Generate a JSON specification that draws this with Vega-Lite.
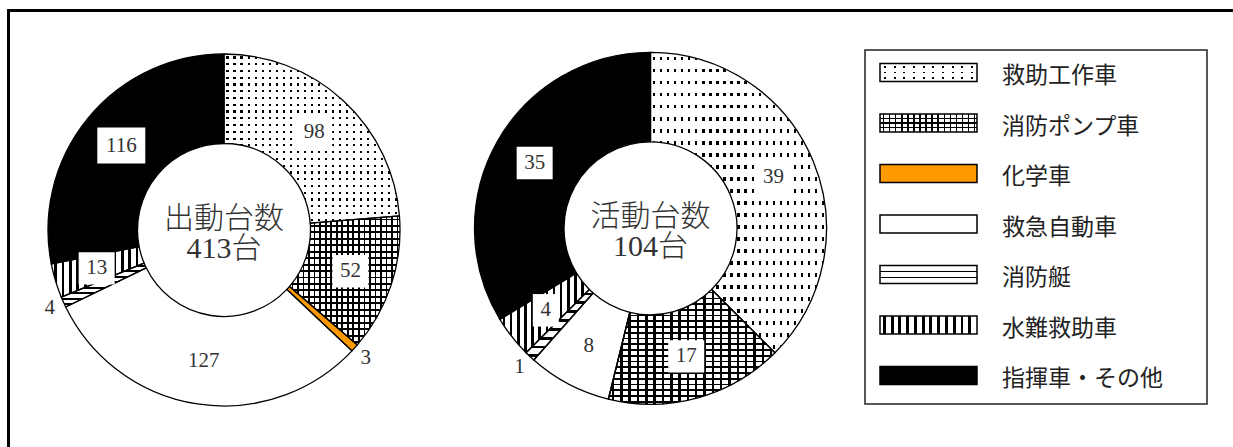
{
"$schema": "https://vega.github.io/schema/vega-lite/v6.json",
"autosize": {"type": "fit", "contains": "padding"},
"width": 1233,
"height": 447,
"padding": {"left": 8.5, "top": 10.5, "right": 0, "bottom": 0},
"background": "#ffffff",
"config": {"view": {"stroke": "#000", "strokeWidth": 3, "strokeDash": [1224.5, 1661, 436.5], "strokeCap": "square"}},
"datasets": {
"d": [
{"chart": "出動台数", "no": 1, "category": "救助工作車", "value": 98},
{"chart": "出動台数", "no": 2, "category": "消防ポンプ車", "value": 52},
{"chart": "出動台数", "no": 3, "category": "化学車", "value": 3},
{"chart": "出動台数", "no": 4, "category": "救急自動車", "value": 127},
{"chart": "出動台数", "no": 5, "category": "消防艇", "value": 4},
{"chart": "出動台数", "no": 6, "category": "水難救助車", "value": 13},
{"chart": "出動台数", "no": 7, "category": "指揮車・その他", "value": 116},
{"chart": "活動台数", "no": 1, "category": "救助工作車", "value": 39},
{"chart": "活動台数", "no": 2, "category": "消防ポンプ車", "value": 17},
{"chart": "活動台数", "no": 3, "category": "化学車", "value": 0},
{"chart": "活動台数", "no": 4, "category": "救急自動車", "value": 8},
{"chart": "活動台数", "no": 5, "category": "消防艇", "value": 1},
{"chart": "活動台数", "no": 6, "category": "水難救助車", "value": 4},
{"chart": "活動台数", "no": 7, "category": "指揮車・その他", "value": 35}
]
},
"data": {"name": "d"},
"resolve": {"scale": {"y": "independent"}},
"layer": [
{
"transform": [{"stack": "value", "groupby": ["chart"], "sort": [{"field": "no", "order": "ascending"}], "offset": "normalize", "as": ["s0", "s1"]}],
"mark": {"type": "arc", "innerRadius": 86.5, "outerRadius": 176},
"encoding": {
"x": {"field": "chart", "type": "nominal", "scale": {"type": "point", "domain": ["出動台数", "活動台数"], "range": [215.5, 642], "padding": 0}, "axis": null},
"y": {"field": "chart", "type": "nominal", "scale": {"type": "point", "domain": ["出動台数", "活動台数"], "range": [219.5, 217.8], "padding": 0}, "axis": null},
"theta": {"field": "s0", "type": "quantitative", "scale": {"domain": [0, 1]}},
"theta2": {"field": "s1"},
"fill": {"condition": [
{"test": "datum.category === '救助工作車'", "value": {"gradient":"linear","x1":0,"y1":0,"x2":0,"y2":1,"stops":[
{"offset":0.014,"color":"#fff"},{"offset":0.014,"color":"#000"},{"offset":0.027,"color":"#000"},{"offset":0.027,"color":"#fff"},
{"offset":0.054,"color":"#fff"},{"offset":0.054,"color":"#000"},{"offset":0.067,"color":"#000"},{"offset":0.067,"color":"#fff"},
{"offset":0.094,"color":"#fff"},{"offset":0.094,"color":"#000"},{"offset":0.107,"color":"#000"},{"offset":0.107,"color":"#fff"},
{"offset":0.134,"color":"#fff"},{"offset":0.134,"color":"#000"},{"offset":0.147,"color":"#000"},{"offset":0.147,"color":"#fff"},
{"offset":0.174,"color":"#fff"},{"offset":0.174,"color":"#000"},{"offset":0.187,"color":"#000"},{"offset":0.187,"color":"#fff"},
{"offset":0.214,"color":"#fff"},{"offset":0.214,"color":"#000"},{"offset":0.227,"color":"#000"},{"offset":0.227,"color":"#fff"},
{"offset":0.254,"color":"#fff"},{"offset":0.254,"color":"#000"},{"offset":0.267,"color":"#000"},{"offset":0.267,"color":"#fff"},
{"offset":0.294,"color":"#fff"},{"offset":0.294,"color":"#000"},{"offset":0.307,"color":"#000"},{"offset":0.307,"color":"#fff"},
{"offset":0.334,"color":"#fff"},{"offset":0.334,"color":"#000"},{"offset":0.347,"color":"#000"},{"offset":0.347,"color":"#fff"},
{"offset":0.374,"color":"#fff"},{"offset":0.374,"color":"#000"},{"offset":0.387,"color":"#000"},{"offset":0.387,"color":"#fff"},
{"offset":0.414,"color":"#fff"},{"offset":0.414,"color":"#000"},{"offset":0.427,"color":"#000"},{"offset":0.427,"color":"#fff"},
{"offset":0.454,"color":"#fff"},{"offset":0.454,"color":"#000"},{"offset":0.467,"color":"#000"},{"offset":0.467,"color":"#fff"},
{"offset":0.494,"color":"#fff"},{"offset":0.494,"color":"#000"},{"offset":0.507,"color":"#000"},{"offset":0.507,"color":"#fff"},
{"offset":0.534,"color":"#fff"},{"offset":0.534,"color":"#000"},{"offset":0.547,"color":"#000"},{"offset":0.547,"color":"#fff"},
{"offset":0.574,"color":"#fff"},{"offset":0.574,"color":"#000"},{"offset":0.587,"color":"#000"},{"offset":0.587,"color":"#fff"},
{"offset":0.614,"color":"#fff"},{"offset":0.614,"color":"#000"},{"offset":0.627,"color":"#000"},{"offset":0.627,"color":"#fff"},
{"offset":0.654,"color":"#fff"},{"offset":0.654,"color":"#000"},{"offset":0.667,"color":"#000"},{"offset":0.667,"color":"#fff"},
{"offset":0.694,"color":"#fff"},{"offset":0.694,"color":"#000"},{"offset":0.707,"color":"#000"},{"offset":0.707,"color":"#fff"},
{"offset":0.734,"color":"#fff"},{"offset":0.734,"color":"#000"},{"offset":0.747,"color":"#000"},{"offset":0.747,"color":"#fff"},
{"offset":0.774,"color":"#fff"},{"offset":0.774,"color":"#000"},{"offset":0.787,"color":"#000"},{"offset":0.787,"color":"#fff"},
{"offset":0.814,"color":"#fff"},{"offset":0.814,"color":"#000"},{"offset":0.827,"color":"#000"},{"offset":0.827,"color":"#fff"},
{"offset":0.854,"color":"#fff"},{"offset":0.854,"color":"#000"},{"offset":0.867,"color":"#000"},{"offset":0.867,"color":"#fff"},
{"offset":0.894,"color":"#fff"},{"offset":0.894,"color":"#000"},{"offset":0.907,"color":"#000"},{"offset":0.907,"color":"#fff"},
{"offset":0.934,"color":"#fff"},{"offset":0.934,"color":"#000"},{"offset":0.947,"color":"#000"},{"offset":0.947,"color":"#fff"},
{"offset":0.974,"color":"#fff"},{"offset":0.974,"color":"#000"},{"offset":0.987,"color":"#000"},{"offset":0.987,"color":"#fff"}]}},
{"test": "datum.category === '消防ポンプ車'", "value": {"gradient":"linear","x1":0,"y1":0,"x2":0,"y2":1,"stops":[
{"offset":0.02,"color":"#fff"},{"offset":0.02,"color":"#000"},{"offset":0.035,"color":"#000"},{"offset":0.035,"color":"#fff"},
{"offset":0.07,"color":"#fff"},{"offset":0.07,"color":"#000"},{"offset":0.085,"color":"#000"},{"offset":0.085,"color":"#fff"},
{"offset":0.12,"color":"#fff"},{"offset":0.12,"color":"#000"},{"offset":0.135,"color":"#000"},{"offset":0.135,"color":"#fff"},
{"offset":0.17,"color":"#fff"},{"offset":0.17,"color":"#000"},{"offset":0.185,"color":"#000"},{"offset":0.185,"color":"#fff"},
{"offset":0.22,"color":"#fff"},{"offset":0.22,"color":"#000"},{"offset":0.235,"color":"#000"},{"offset":0.235,"color":"#fff"},
{"offset":0.27,"color":"#fff"},{"offset":0.27,"color":"#000"},{"offset":0.285,"color":"#000"},{"offset":0.285,"color":"#fff"},
{"offset":0.32,"color":"#fff"},{"offset":0.32,"color":"#000"},{"offset":0.335,"color":"#000"},{"offset":0.335,"color":"#fff"},
{"offset":0.37,"color":"#fff"},{"offset":0.37,"color":"#000"},{"offset":0.385,"color":"#000"},{"offset":0.385,"color":"#fff"},
{"offset":0.42,"color":"#fff"},{"offset":0.42,"color":"#000"},{"offset":0.435,"color":"#000"},{"offset":0.435,"color":"#fff"},
{"offset":0.47,"color":"#fff"},{"offset":0.47,"color":"#000"},{"offset":0.485,"color":"#000"},{"offset":0.485,"color":"#fff"},
{"offset":0.52,"color":"#fff"},{"offset":0.52,"color":"#000"},{"offset":0.535,"color":"#000"},{"offset":0.535,"color":"#fff"},
{"offset":0.57,"color":"#fff"},{"offset":0.57,"color":"#000"},{"offset":0.585,"color":"#000"},{"offset":0.585,"color":"#fff"},
{"offset":0.62,"color":"#fff"},{"offset":0.62,"color":"#000"},{"offset":0.635,"color":"#000"},{"offset":0.635,"color":"#fff"},
{"offset":0.67,"color":"#fff"},{"offset":0.67,"color":"#000"},{"offset":0.685,"color":"#000"},{"offset":0.685,"color":"#fff"},
{"offset":0.72,"color":"#fff"},{"offset":0.72,"color":"#000"},{"offset":0.735,"color":"#000"},{"offset":0.735,"color":"#fff"},
{"offset":0.77,"color":"#fff"},{"offset":0.77,"color":"#000"},{"offset":0.785,"color":"#000"},{"offset":0.785,"color":"#fff"},
{"offset":0.82,"color":"#fff"},{"offset":0.82,"color":"#000"},{"offset":0.835,"color":"#000"},{"offset":0.835,"color":"#fff"},
{"offset":0.87,"color":"#fff"},{"offset":0.87,"color":"#000"},{"offset":0.885,"color":"#000"},{"offset":0.885,"color":"#fff"},
{"offset":0.92,"color":"#fff"},{"offset":0.92,"color":"#000"},{"offset":0.935,"color":"#000"},{"offset":0.935,"color":"#fff"},
{"offset":0.97,"color":"#fff"},{"offset":0.97,"color":"#000"},{"offset":0.985,"color":"#000"},{"offset":0.985,"color":"#fff"}]}},
{"test": "datum.category === '化学車'", "value": "#ff9900"},
{"test": "datum.category === '消防艇'", "value": {"gradient":"linear","x1":0,"y1":0,"x2":0,"y2":1,"stops":[
{"offset":0.045,"color":"#fff"},{"offset":0.045,"color":"#000"},{"offset":0.085,"color":"#000"},{"offset":0.085,"color":"#fff"},
{"offset":0.17,"color":"#fff"},{"offset":0.17,"color":"#000"},{"offset":0.21,"color":"#000"},{"offset":0.21,"color":"#fff"},
{"offset":0.295,"color":"#fff"},{"offset":0.295,"color":"#000"},{"offset":0.335,"color":"#000"},{"offset":0.335,"color":"#fff"},
{"offset":0.42,"color":"#fff"},{"offset":0.42,"color":"#000"},{"offset":0.46,"color":"#000"},{"offset":0.46,"color":"#fff"},
{"offset":0.545,"color":"#fff"},{"offset":0.545,"color":"#000"},{"offset":0.585,"color":"#000"},{"offset":0.585,"color":"#fff"},
{"offset":0.67,"color":"#fff"},{"offset":0.67,"color":"#000"},{"offset":0.71,"color":"#000"},{"offset":0.71,"color":"#fff"},
{"offset":0.795,"color":"#fff"},{"offset":0.795,"color":"#000"},{"offset":0.835,"color":"#000"},{"offset":0.835,"color":"#fff"},
{"offset":0.92,"color":"#fff"},{"offset":0.92,"color":"#000"},{"offset":0.96,"color":"#000"},{"offset":0.96,"color":"#fff"}]}},
{"test": "datum.category === '水難救助車'", "value": {"gradient":"linear","x1":0,"y1":0,"x2":1,"y2":0,"stops":[
{"offset":0.03,"color":"#fff"},{"offset":0.03,"color":"#000"},{"offset":0.06,"color":"#000"},{"offset":0.06,"color":"#fff"},
{"offset":0.11,"color":"#fff"},{"offset":0.11,"color":"#000"},{"offset":0.14,"color":"#000"},{"offset":0.14,"color":"#fff"},
{"offset":0.19,"color":"#fff"},{"offset":0.19,"color":"#000"},{"offset":0.22,"color":"#000"},{"offset":0.22,"color":"#fff"},
{"offset":0.27,"color":"#fff"},{"offset":0.27,"color":"#000"},{"offset":0.30,"color":"#000"},{"offset":0.30,"color":"#fff"},
{"offset":0.35,"color":"#fff"},{"offset":0.35,"color":"#000"},{"offset":0.38,"color":"#000"},{"offset":0.38,"color":"#fff"},
{"offset":0.43,"color":"#fff"},{"offset":0.43,"color":"#000"},{"offset":0.46,"color":"#000"},{"offset":0.46,"color":"#fff"},
{"offset":0.51,"color":"#fff"},{"offset":0.51,"color":"#000"},{"offset":0.54,"color":"#000"},{"offset":0.54,"color":"#fff"},
{"offset":0.59,"color":"#fff"},{"offset":0.59,"color":"#000"},{"offset":0.62,"color":"#000"},{"offset":0.62,"color":"#fff"},
{"offset":0.67,"color":"#fff"},{"offset":0.67,"color":"#000"},{"offset":0.70,"color":"#000"},{"offset":0.70,"color":"#fff"},
{"offset":0.75,"color":"#fff"},{"offset":0.75,"color":"#000"},{"offset":0.78,"color":"#000"},{"offset":0.78,"color":"#fff"},
{"offset":0.83,"color":"#fff"},{"offset":0.83,"color":"#000"},{"offset":0.86,"color":"#000"},{"offset":0.86,"color":"#fff"},
{"offset":0.91,"color":"#fff"},{"offset":0.91,"color":"#000"},{"offset":0.94,"color":"#000"},{"offset":0.94,"color":"#fff"}]}},
{"test": "datum.category === '指揮車・その他'", "value": "#000000"}
], "value": "#ffffff"}
}
},
{
"transform": [{"stack": "value", "groupby": ["chart"], "sort": [{"field": "no", "order": "ascending"}], "offset": "normalize", "as": ["s0", "s1"]}],
"mark": {"type": "arc", "innerRadius": 86.5, "outerRadius": 176, "stroke": "#000", "strokeWidth": 1.3},
"encoding": {
"x": {"field": "chart", "type": "nominal", "scale": {"type": "point", "domain": ["出動台数", "活動台数"], "range": [215.5, 642], "padding": 0}, "axis": null},
"y": {"field": "chart", "type": "nominal", "scale": {"type": "point", "domain": ["出動台数", "活動台数"], "range": [219.5, 217.8], "padding": 0}, "axis": null},
"theta": {"field": "s0", "type": "quantitative", "scale": {"domain": [0, 1]}},
"theta2": {"field": "s1"},
"fill": {"condition": [
{"test": "datum.category === '救助工作車'", "value": {"gradient":"linear","x1":0,"y1":0,"x2":1,"y2":0,"stops":[
{"offset":0.014,"color":"#fff"},{"offset":0.014,"color":"rgba(255,255,255,0)"},{"offset":0.027,"color":"rgba(255,255,255,0)"},{"offset":0.027,"color":"#fff"},
{"offset":0.054,"color":"#fff"},{"offset":0.054,"color":"rgba(255,255,255,0)"},{"offset":0.067,"color":"rgba(255,255,255,0)"},{"offset":0.067,"color":"#fff"},
{"offset":0.094,"color":"#fff"},{"offset":0.094,"color":"rgba(255,255,255,0)"},{"offset":0.107,"color":"rgba(255,255,255,0)"},{"offset":0.107,"color":"#fff"},
{"offset":0.134,"color":"#fff"},{"offset":0.134,"color":"rgba(255,255,255,0)"},{"offset":0.147,"color":"rgba(255,255,255,0)"},{"offset":0.147,"color":"#fff"},
{"offset":0.174,"color":"#fff"},{"offset":0.174,"color":"rgba(255,255,255,0)"},{"offset":0.187,"color":"rgba(255,255,255,0)"},{"offset":0.187,"color":"#fff"},
{"offset":0.214,"color":"#fff"},{"offset":0.214,"color":"rgba(255,255,255,0)"},{"offset":0.227,"color":"rgba(255,255,255,0)"},{"offset":0.227,"color":"#fff"},
{"offset":0.254,"color":"#fff"},{"offset":0.254,"color":"rgba(255,255,255,0)"},{"offset":0.267,"color":"rgba(255,255,255,0)"},{"offset":0.267,"color":"#fff"},
{"offset":0.294,"color":"#fff"},{"offset":0.294,"color":"rgba(255,255,255,0)"},{"offset":0.307,"color":"rgba(255,255,255,0)"},{"offset":0.307,"color":"#fff"},
{"offset":0.334,"color":"#fff"},{"offset":0.334,"color":"rgba(255,255,255,0)"},{"offset":0.347,"color":"rgba(255,255,255,0)"},{"offset":0.347,"color":"#fff"},
{"offset":0.374,"color":"#fff"},{"offset":0.374,"color":"rgba(255,255,255,0)"},{"offset":0.387,"color":"rgba(255,255,255,0)"},{"offset":0.387,"color":"#fff"},
{"offset":0.414,"color":"#fff"},{"offset":0.414,"color":"rgba(255,255,255,0)"},{"offset":0.427,"color":"rgba(255,255,255,0)"},{"offset":0.427,"color":"#fff"},
{"offset":0.454,"color":"#fff"},{"offset":0.454,"color":"rgba(255,255,255,0)"},{"offset":0.467,"color":"rgba(255,255,255,0)"},{"offset":0.467,"color":"#fff"},
{"offset":0.494,"color":"#fff"},{"offset":0.494,"color":"rgba(255,255,255,0)"},{"offset":0.507,"color":"rgba(255,255,255,0)"},{"offset":0.507,"color":"#fff"},
{"offset":0.534,"color":"#fff"},{"offset":0.534,"color":"rgba(255,255,255,0)"},{"offset":0.547,"color":"rgba(255,255,255,0)"},{"offset":0.547,"color":"#fff"},
{"offset":0.574,"color":"#fff"},{"offset":0.574,"color":"rgba(255,255,255,0)"},{"offset":0.587,"color":"rgba(255,255,255,0)"},{"offset":0.587,"color":"#fff"},
{"offset":0.614,"color":"#fff"},{"offset":0.614,"color":"rgba(255,255,255,0)"},{"offset":0.627,"color":"rgba(255,255,255,0)"},{"offset":0.627,"color":"#fff"},
{"offset":0.654,"color":"#fff"},{"offset":0.654,"color":"rgba(255,255,255,0)"},{"offset":0.667,"color":"rgba(255,255,255,0)"},{"offset":0.667,"color":"#fff"},
{"offset":0.694,"color":"#fff"},{"offset":0.694,"color":"rgba(255,255,255,0)"},{"offset":0.707,"color":"rgba(255,255,255,0)"},{"offset":0.707,"color":"#fff"},
{"offset":0.734,"color":"#fff"},{"offset":0.734,"color":"rgba(255,255,255,0)"},{"offset":0.747,"color":"rgba(255,255,255,0)"},{"offset":0.747,"color":"#fff"},
{"offset":0.774,"color":"#fff"},{"offset":0.774,"color":"rgba(255,255,255,0)"},{"offset":0.787,"color":"rgba(255,255,255,0)"},{"offset":0.787,"color":"#fff"},
{"offset":0.814,"color":"#fff"},{"offset":0.814,"color":"rgba(255,255,255,0)"},{"offset":0.827,"color":"rgba(255,255,255,0)"},{"offset":0.827,"color":"#fff"},
{"offset":0.854,"color":"#fff"},{"offset":0.854,"color":"rgba(255,255,255,0)"},{"offset":0.867,"color":"rgba(255,255,255,0)"},{"offset":0.867,"color":"#fff"},
{"offset":0.894,"color":"#fff"},{"offset":0.894,"color":"rgba(255,255,255,0)"},{"offset":0.907,"color":"rgba(255,255,255,0)"},{"offset":0.907,"color":"#fff"},
{"offset":0.934,"color":"#fff"},{"offset":0.934,"color":"rgba(255,255,255,0)"},{"offset":0.947,"color":"rgba(255,255,255,0)"},{"offset":0.947,"color":"#fff"},
{"offset":0.974,"color":"#fff"},{"offset":0.974,"color":"rgba(255,255,255,0)"},{"offset":0.987,"color":"rgba(255,255,255,0)"},{"offset":0.987,"color":"#fff"}]}},
{"test": "datum.category === '消防ポンプ車'", "value": {"gradient":"linear","x1":0,"y1":0,"x2":1,"y2":0,"stops":[
{"offset":0.02,"color":"rgba(255,255,255,0)"},{"offset":0.02,"color":"#000"},{"offset":0.035,"color":"#000"},{"offset":0.035,"color":"rgba(255,255,255,0)"},
{"offset":0.07,"color":"rgba(255,255,255,0)"},{"offset":0.07,"color":"#000"},{"offset":0.085,"color":"#000"},{"offset":0.085,"color":"rgba(255,255,255,0)"},
{"offset":0.12,"color":"rgba(255,255,255,0)"},{"offset":0.12,"color":"#000"},{"offset":0.135,"color":"#000"},{"offset":0.135,"color":"rgba(255,255,255,0)"},
{"offset":0.17,"color":"rgba(255,255,255,0)"},{"offset":0.17,"color":"#000"},{"offset":0.185,"color":"#000"},{"offset":0.185,"color":"rgba(255,255,255,0)"},
{"offset":0.22,"color":"rgba(255,255,255,0)"},{"offset":0.22,"color":"#000"},{"offset":0.235,"color":"#000"},{"offset":0.235,"color":"rgba(255,255,255,0)"},
{"offset":0.27,"color":"rgba(255,255,255,0)"},{"offset":0.27,"color":"#000"},{"offset":0.285,"color":"#000"},{"offset":0.285,"color":"rgba(255,255,255,0)"},
{"offset":0.32,"color":"rgba(255,255,255,0)"},{"offset":0.32,"color":"#000"},{"offset":0.335,"color":"#000"},{"offset":0.335,"color":"rgba(255,255,255,0)"},
{"offset":0.37,"color":"rgba(255,255,255,0)"},{"offset":0.37,"color":"#000"},{"offset":0.385,"color":"#000"},{"offset":0.385,"color":"rgba(255,255,255,0)"},
{"offset":0.42,"color":"rgba(255,255,255,0)"},{"offset":0.42,"color":"#000"},{"offset":0.435,"color":"#000"},{"offset":0.435,"color":"rgba(255,255,255,0)"},
{"offset":0.47,"color":"rgba(255,255,255,0)"},{"offset":0.47,"color":"#000"},{"offset":0.485,"color":"#000"},{"offset":0.485,"color":"rgba(255,255,255,0)"},
{"offset":0.52,"color":"rgba(255,255,255,0)"},{"offset":0.52,"color":"#000"},{"offset":0.535,"color":"#000"},{"offset":0.535,"color":"rgba(255,255,255,0)"},
{"offset":0.57,"color":"rgba(255,255,255,0)"},{"offset":0.57,"color":"#000"},{"offset":0.585,"color":"#000"},{"offset":0.585,"color":"rgba(255,255,255,0)"},
{"offset":0.62,"color":"rgba(255,255,255,0)"},{"offset":0.62,"color":"#000"},{"offset":0.635,"color":"#000"},{"offset":0.635,"color":"rgba(255,255,255,0)"},
{"offset":0.67,"color":"rgba(255,255,255,0)"},{"offset":0.67,"color":"#000"},{"offset":0.685,"color":"#000"},{"offset":0.685,"color":"rgba(255,255,255,0)"},
{"offset":0.72,"color":"rgba(255,255,255,0)"},{"offset":0.72,"color":"#000"},{"offset":0.735,"color":"#000"},{"offset":0.735,"color":"rgba(255,255,255,0)"},
{"offset":0.77,"color":"rgba(255,255,255,0)"},{"offset":0.77,"color":"#000"},{"offset":0.785,"color":"#000"},{"offset":0.785,"color":"rgba(255,255,255,0)"},
{"offset":0.82,"color":"rgba(255,255,255,0)"},{"offset":0.82,"color":"#000"},{"offset":0.835,"color":"#000"},{"offset":0.835,"color":"rgba(255,255,255,0)"},
{"offset":0.87,"color":"rgba(255,255,255,0)"},{"offset":0.87,"color":"#000"},{"offset":0.885,"color":"#000"},{"offset":0.885,"color":"rgba(255,255,255,0)"},
{"offset":0.92,"color":"rgba(255,255,255,0)"},{"offset":0.92,"color":"#000"},{"offset":0.935,"color":"#000"},{"offset":0.935,"color":"rgba(255,255,255,0)"},
{"offset":0.97,"color":"rgba(255,255,255,0)"},{"offset":0.97,"color":"#000"},{"offset":0.985,"color":"#000"},{"offset":0.985,"color":"rgba(255,255,255,0)"}]}}
], "value": "transparent"}
}
},
{
"transform": [
{"stack": "value", "groupby": ["chart"], "sort": [{"field": "no", "order": "ascending"}], "offset": "normalize", "as": ["s0", "s1"]},
{"filter": "datum.value > 0 && datum.category !== '化学車' && datum.category !== '消防艇' && datum.category !== '救急自動車'"},
{"calculate": "(datum.s0 + datum.s1) / 2", "as": "mid"},
{"calculate": "133 * sin(2 * PI * datum.mid)", "as": "dx"},
{"calculate": "-133 * cos(2 * PI * datum.mid)", "as": "dy"}
],
"mark": {"type": "point", "filled": true, "opacity": 1, "color": "#ffffff", "strokeWidth": 0},
"encoding": {
"x": {"field": "chart", "type": "nominal", "scale": {"type": "point", "domain": ["出動台数", "活動台数"], "range": [215.5, 642], "padding": 0}, "axis": null},
"y": {"field": "chart", "type": "nominal", "scale": {"type": "point", "domain": ["出動台数", "活動台数"], "range": [219.5, 217.8], "padding": 0}, "axis": null},
"xOffset": {"field": "dx", "type": "quantitative", "scale": {"domain": [-300, 300], "range": [-300, 300]}},
"yOffset": {"field": "dy", "type": "quantitative", "scale": {"domain": [-300, 300], "range": [-300, 300]}},
"shape": {"condition": [{"test": "datum.value >= 100", "value": "M-1,-0.75H1V0.75H-1Z"}, {"test": "datum.value < 10", "value": "M-1,-1.25H1V1.25H-1Z"}], "value": "M-1,-0.9H1V0.9H-1Z"},
"size": {"condition": [{"test": "datum.value >= 100", "value": 2304}, {"test": "datum.value < 10", "value": 676}], "value": 1296}
}
},
{
"transform": [
{"stack": "value", "groupby": ["chart"], "sort": [{"field": "no", "order": "ascending"}], "offset": "normalize", "as": ["s0", "s1"]},
{"filter": "datum.value > 0 && datum.category !== '化学車' && datum.category !== '消防艇'"},
{"calculate": "(datum.s0 + datum.s1) / 2", "as": "mid"}
],
"mark": {"type": "text", "radius": 133, "font": "Liberation Serif", "fontSize": 21, "align": "center", "baseline": "middle", "color": "#333333"},
"encoding": {
"x": {"field": "chart", "type": "nominal", "scale": {"type": "point", "domain": ["出動台数", "活動台数"], "range": [215.5, 642], "padding": 0}, "axis": null},
"y": {"field": "chart", "type": "nominal", "scale": {"type": "point", "domain": ["出動台数", "活動台数"], "range": [219.5, 217.8], "padding": 0}, "axis": null},
"theta": {"field": "mid", "type": "quantitative", "scale": {"domain": [0, 1]}},
"text": {"field": "value", "type": "quantitative"}
}
},
{
"transform": [
{"stack": "value", "groupby": ["chart"], "sort": [{"field": "no", "order": "ascending"}], "offset": "normalize", "as": ["s0", "s1"]},
{"filter": "datum.value > 0 && (datum.category === '化学車' || datum.category === '消防艇')"},
{"calculate": "(datum.s0 + datum.s1) / 2", "as": "mid"}
],
"mark": {"type": "text", "radius": 191, "font": "Liberation Serif", "fontSize": 21, "align": "center", "baseline": "middle", "color": "#333333"},
"encoding": {
"x": {"field": "chart", "type": "nominal", "scale": {"type": "point", "domain": ["出動台数", "活動台数"], "range": [215.5, 642], "padding": 0}, "axis": null},
"y": {"field": "chart", "type": "nominal", "scale": {"type": "point", "domain": ["出動台数", "活動台数"], "range": [219.5, 217.8], "padding": 0}, "axis": null},
"theta": {"field": "mid", "type": "quantitative", "scale": {"domain": [0, 1]}},
"text": {"field": "value", "type": "quantitative"}
}
},
{
"transform": [
{"aggregate": [{"op": "sum", "field": "value", "as": "total"}], "groupby": ["chart"]},
{"calculate": "[datum.chart, datum.total + '台']", "as": "lines"}
],
"mark": {"type": "text", "font": "Liberation Serif, Noto Sans CJK JP", "fontSize": 30, "fontWeight": 300, "lineHeight": 30, "align": "center", "baseline": "middle", "color": "#333333", "dy": -11},
"encoding": {
"x": {"field": "chart", "type": "nominal", "scale": {"type": "point", "domain": ["出動台数", "活動台数"], "range": [215.5, 642], "padding": 0}, "axis": null},
"y": {"field": "chart", "type": "nominal", "scale": {"type": "point", "domain": ["出動台数", "活動台数"], "range": [219.5, 217.8], "padding": 0}, "axis": null},
"text": {"field": "lines"}
}
},
{
"transform": [{"filter": "datum.chart === '出動台数' && datum.no === 1"}],
"mark": {"type": "rect", "filled": false, "stroke": "#222222", "strokeWidth": 1.5},
"encoding": {
"x": {"value": 856.5}, "x2": {"value": 1198.5},
"y": {"value": 39.5}, "y2": {"value": 393.5}
}
},
{
"transform": [{"filter": "datum.chart === '出動台数'"}],
"mark": {"type": "rect"},
"encoding": {
"x": {"value": 871.5}, "x2": {"value": 968.5},
"y": {"field": "category", "type": "nominal", "scale": {"type": "band", "domain": ["救助工作車", "消防ポンプ車", "化学車", "救急自動車", "消防艇", "水難救助車", "指揮車・その他"], "range": [53, 381], "paddingInner": 0.505, "paddingOuter": 0}, "axis": null},
"fill": {"condition": [
{"test": "datum.category === '救助工作車'", "value": {"gradient":"linear","x1":0,"y1":0,"x2":0,"y2":1,"stops":[
{"offset":0.16,"color":"#fff"},{"offset":0.16,"color":"#000"},{"offset":0.24,"color":"#000"},{"offset":0.24,"color":"#fff"},
{"offset":0.46,"color":"#fff"},{"offset":0.46,"color":"#000"},{"offset":0.54,"color":"#000"},{"offset":0.54,"color":"#fff"},
{"offset":0.76,"color":"#fff"},{"offset":0.76,"color":"#000"},{"offset":0.84,"color":"#000"},{"offset":0.84,"color":"#fff"}]}},
{"test": "datum.category === '消防ポンプ車'", "value": {"gradient":"linear","x1":0,"y1":0,"x2":0,"y2":1,"stops":[
{"offset":0.22,"color":"#fff"},{"offset":0.22,"color":"#000"},{"offset":0.28,"color":"#000"},{"offset":0.28,"color":"#fff"},
{"offset":0.47,"color":"#fff"},{"offset":0.47,"color":"#000"},{"offset":0.53,"color":"#000"},{"offset":0.53,"color":"#fff"},
{"offset":0.72,"color":"#fff"},{"offset":0.72,"color":"#000"},{"offset":0.78,"color":"#000"},{"offset":0.78,"color":"#fff"}]}},
{"test": "datum.category === '化学車'", "value": "#ff9900"},
{"test": "datum.category === '消防艇'", "value": {"gradient":"linear","x1":0,"y1":0,"x2":0,"y2":1,"stops":[
{"offset":0.3,"color":"#fff"},{"offset":0.3,"color":"#000"},{"offset":0.38,"color":"#000"},{"offset":0.38,"color":"#fff"},
{"offset":0.62,"color":"#fff"},{"offset":0.62,"color":"#000"},{"offset":0.70,"color":"#000"},{"offset":0.70,"color":"#fff"}]}},
{"test": "datum.category === '水難救助車'", "value": {"gradient":"linear","x1":0,"y1":0,"x2":1,"y2":0,"stops":[
{"offset":0.03,"color":"#fff"},{"offset":0.03,"color":"#000"},{"offset":0.06,"color":"#000"},{"offset":0.06,"color":"#fff"},
{"offset":0.11,"color":"#fff"},{"offset":0.11,"color":"#000"},{"offset":0.14,"color":"#000"},{"offset":0.14,"color":"#fff"},
{"offset":0.19,"color":"#fff"},{"offset":0.19,"color":"#000"},{"offset":0.22,"color":"#000"},{"offset":0.22,"color":"#fff"},
{"offset":0.27,"color":"#fff"},{"offset":0.27,"color":"#000"},{"offset":0.30,"color":"#000"},{"offset":0.30,"color":"#fff"},
{"offset":0.35,"color":"#fff"},{"offset":0.35,"color":"#000"},{"offset":0.38,"color":"#000"},{"offset":0.38,"color":"#fff"},
{"offset":0.43,"color":"#fff"},{"offset":0.43,"color":"#000"},{"offset":0.46,"color":"#000"},{"offset":0.46,"color":"#fff"},
{"offset":0.51,"color":"#fff"},{"offset":0.51,"color":"#000"},{"offset":0.54,"color":"#000"},{"offset":0.54,"color":"#fff"},
{"offset":0.59,"color":"#fff"},{"offset":0.59,"color":"#000"},{"offset":0.62,"color":"#000"},{"offset":0.62,"color":"#fff"},
{"offset":0.67,"color":"#fff"},{"offset":0.67,"color":"#000"},{"offset":0.70,"color":"#000"},{"offset":0.70,"color":"#fff"},
{"offset":0.75,"color":"#fff"},{"offset":0.75,"color":"#000"},{"offset":0.78,"color":"#000"},{"offset":0.78,"color":"#fff"},
{"offset":0.83,"color":"#fff"},{"offset":0.83,"color":"#000"},{"offset":0.86,"color":"#000"},{"offset":0.86,"color":"#fff"},
{"offset":0.91,"color":"#fff"},{"offset":0.91,"color":"#000"},{"offset":0.94,"color":"#000"},{"offset":0.94,"color":"#fff"}]}},
{"test": "datum.category === '指揮車・その他'", "value": "#000000"}
], "value": "#ffffff"}
}
},
{
"transform": [{"filter": "datum.chart === '出動台数'"}],
"mark": {"type": "rect", "stroke": "#000", "strokeWidth": 1.5},
"encoding": {
"x": {"value": 871.5}, "x2": {"value": 968.5},
"y": {"field": "category", "type": "nominal", "scale": {"type": "band", "domain": ["救助工作車", "消防ポンプ車", "化学車", "救急自動車", "消防艇", "水難救助車", "指揮車・その他"], "range": [53, 381], "paddingInner": 0.505, "paddingOuter": 0}, "axis": null},
"fill": {"condition": [
{"test": "datum.category === '救助工作車'", "value": {"gradient":"linear","x1":0,"y1":0,"x2":1,"y2":0,"stops":[
{"offset":0.04,"color":"#fff"},{"offset":0.04,"color":"rgba(255,255,255,0)"},{"offset":0.06,"color":"rgba(255,255,255,0)"},{"offset":0.06,"color":"#fff"},
{"offset":0.14,"color":"#fff"},{"offset":0.14,"color":"rgba(255,255,255,0)"},{"offset":0.16,"color":"rgba(255,255,255,0)"},{"offset":0.16,"color":"#fff"},
{"offset":0.24,"color":"#fff"},{"offset":0.24,"color":"rgba(255,255,255,0)"},{"offset":0.26,"color":"rgba(255,255,255,0)"},{"offset":0.26,"color":"#fff"},
{"offset":0.34,"color":"#fff"},{"offset":0.34,"color":"rgba(255,255,255,0)"},{"offset":0.36,"color":"rgba(255,255,255,0)"},{"offset":0.36,"color":"#fff"},
{"offset":0.44,"color":"#fff"},{"offset":0.44,"color":"rgba(255,255,255,0)"},{"offset":0.46,"color":"rgba(255,255,255,0)"},{"offset":0.46,"color":"#fff"},
{"offset":0.54,"color":"#fff"},{"offset":0.54,"color":"rgba(255,255,255,0)"},{"offset":0.56,"color":"rgba(255,255,255,0)"},{"offset":0.56,"color":"#fff"},
{"offset":0.64,"color":"#fff"},{"offset":0.64,"color":"rgba(255,255,255,0)"},{"offset":0.66,"color":"rgba(255,255,255,0)"},{"offset":0.66,"color":"#fff"},
{"offset":0.74,"color":"#fff"},{"offset":0.74,"color":"rgba(255,255,255,0)"},{"offset":0.76,"color":"rgba(255,255,255,0)"},{"offset":0.76,"color":"#fff"},
{"offset":0.84,"color":"#fff"},{"offset":0.84,"color":"rgba(255,255,255,0)"},{"offset":0.86,"color":"rgba(255,255,255,0)"},{"offset":0.86,"color":"#fff"},
{"offset":0.94,"color":"#fff"},{"offset":0.94,"color":"rgba(255,255,255,0)"},{"offset":0.96,"color":"rgba(255,255,255,0)"},{"offset":0.96,"color":"#fff"}]}},
{"test": "datum.category === '消防ポンプ車'", "value": {"gradient":"linear","x1":0,"y1":0,"x2":1,"y2":0,"stops":[
{"offset":0.03,"color":"rgba(255,255,255,0)"},{"offset":0.03,"color":"#000"},{"offset":0.045,"color":"#000"},{"offset":0.045,"color":"rgba(255,255,255,0)"},
{"offset":0.0925,"color":"rgba(255,255,255,0)"},{"offset":0.0925,"color":"#000"},{"offset":0.1075,"color":"#000"},{"offset":0.1075,"color":"rgba(255,255,255,0)"},
{"offset":0.155,"color":"rgba(255,255,255,0)"},{"offset":0.155,"color":"#000"},{"offset":0.17,"color":"#000"},{"offset":0.17,"color":"rgba(255,255,255,0)"},
{"offset":0.2175,"color":"rgba(255,255,255,0)"},{"offset":0.2175,"color":"#000"},{"offset":0.2325,"color":"#000"},{"offset":0.2325,"color":"rgba(255,255,255,0)"},
{"offset":0.28,"color":"rgba(255,255,255,0)"},{"offset":0.28,"color":"#000"},{"offset":0.295,"color":"#000"},{"offset":0.295,"color":"rgba(255,255,255,0)"},
{"offset":0.3425,"color":"rgba(255,255,255,0)"},{"offset":0.3425,"color":"#000"},{"offset":0.3575,"color":"#000"},{"offset":0.3575,"color":"rgba(255,255,255,0)"},
{"offset":0.405,"color":"rgba(255,255,255,0)"},{"offset":0.405,"color":"#000"},{"offset":0.42,"color":"#000"},{"offset":0.42,"color":"rgba(255,255,255,0)"},
{"offset":0.4675,"color":"rgba(255,255,255,0)"},{"offset":0.4675,"color":"#000"},{"offset":0.4825,"color":"#000"},{"offset":0.4825,"color":"rgba(255,255,255,0)"},
{"offset":0.53,"color":"rgba(255,255,255,0)"},{"offset":0.53,"color":"#000"},{"offset":0.545,"color":"#000"},{"offset":0.545,"color":"rgba(255,255,255,0)"},
{"offset":0.5925,"color":"rgba(255,255,255,0)"},{"offset":0.5925,"color":"#000"},{"offset":0.6075,"color":"#000"},{"offset":0.6075,"color":"rgba(255,255,255,0)"},
{"offset":0.655,"color":"rgba(255,255,255,0)"},{"offset":0.655,"color":"#000"},{"offset":0.67,"color":"#000"},{"offset":0.67,"color":"rgba(255,255,255,0)"},
{"offset":0.7175,"color":"rgba(255,255,255,0)"},{"offset":0.7175,"color":"#000"},{"offset":0.7325,"color":"#000"},{"offset":0.7325,"color":"rgba(255,255,255,0)"},
{"offset":0.78,"color":"rgba(255,255,255,0)"},{"offset":0.78,"color":"#000"},{"offset":0.795,"color":"#000"},{"offset":0.795,"color":"rgba(255,255,255,0)"},
{"offset":0.8425,"color":"rgba(255,255,255,0)"},{"offset":0.8425,"color":"#000"},{"offset":0.8575,"color":"#000"},{"offset":0.8575,"color":"rgba(255,255,255,0)"},
{"offset":0.905,"color":"rgba(255,255,255,0)"},{"offset":0.905,"color":"#000"},{"offset":0.92,"color":"#000"},{"offset":0.92,"color":"rgba(255,255,255,0)"},
{"offset":0.9675,"color":"rgba(255,255,255,0)"},{"offset":0.9675,"color":"#000"},{"offset":0.9825,"color":"#000"},{"offset":0.9825,"color":"rgba(255,255,255,0)"}]}}
], "value": "transparent"}
}
},
{
"transform": [{"filter": "datum.chart === '出動台数'"}],
"mark": {"type": "text", "font": "Noto Sans CJK JP", "fontSize": 23, "align": "left", "baseline": "middle", "color": "#222222"},
"encoding": {
"x": {"value": 993.5},
"y": {"field": "category", "type": "nominal", "scale": {"type": "point", "domain": ["救助工作車", "消防ポンプ車", "化学車", "救急自動車", "消防艇", "水難救助車", "指揮車・その他"], "range": [65.5, 368.5], "padding": 0}, "axis": null},
"text": {"field": "category"}
}
}
]
}
